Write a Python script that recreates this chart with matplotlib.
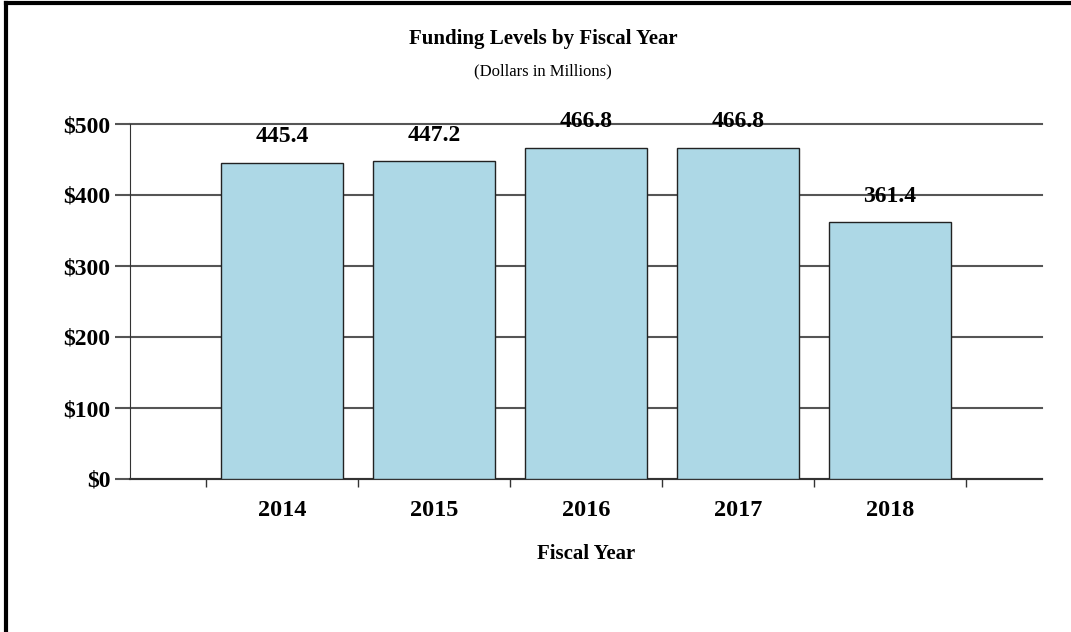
import matplotlib.pyplot as plt
from matplotlib.lines import Line2D

# data
years = ['2014', '2015', '2016', '2017', '2018']
funding = [445.4, 447.2, 466.8, 466.8, 361.4]
y_ticks = [0, 100, 200, 300, 400, 500]
y_labels = ['$0', '$100', '$200', '$300', '$400', '$500']

plt.rcParams['font.family'] = ['Liberation Serif', 'DejaVu Serif']

fig = plt.figure(figsize=(10.71, 6.32), dpi=100)
ax = fig.add_axes([130 / 1071, 1 - 479 / 632, (1042 - 130) / 1071, (479 - 124) / 632])

pos = list(range(len(years)))
ax.bar(pos, funding, width=0.8, color='#ADD8E6', edgecolor='#222222', linewidth=1, zorder=3)

for x, v in zip(pos, funding):
    ax.annotate(f'{v:.1f}', (x, v), xytext=(0, 11), textcoords='offset points',
                ha='center', va='bottom', fontsize=17, fontweight='bold', zorder=4)

ax.set_xlim(-1, 5)
ax.set_ylim(0, 500)
ax.set_yticks(y_ticks)
ax.set_yticklabels(y_labels, fontsize=17, fontweight='bold')
ax.yaxis.grid(True, color='#555555', linewidth=1.5, zorder=0)
for gl in ax.get_ygridlines():
    gl.set_clip_on(False)

# ticks at category boundaries, labels centred under bars
ax.set_xticks([p - 0.5 for p in pos] + [pos[-1] + 0.5])
ax.set_xticklabels([])
ax.set_xticks(pos, minor=True)
ax.set_xticklabels(years, minor=True, fontsize=17.5, fontweight='bold')
ax.tick_params(axis='x', which='minor', length=0, pad=15)
ax.tick_params(axis='x', which='major', length=6, width=1, color='#333333')
ax.tick_params(axis='y', length=11, width=1.5, color='#555555', pad=3)

for s in ['top', 'right']:
    ax.spines[s].set_visible(False)
ax.spines['left'].set_color('#333333')
ax.spines['bottom'].set_color('#333333')
ax.spines['bottom'].set_linewidth(1.5)

ax.set_xlabel('Fiscal Year', fontsize=15, fontweight='bold', labelpad=17)

fig.text(543 / 1071, 1 - 39 / 632, 'Funding Levels by Fiscal Year', ha='center', va='center',
         fontsize=15, fontweight='bold')
fig.text(543 / 1071, 1 - 71 / 632, '(Dollars in Millions)', ha='center', va='center', fontsize=12)

# outer frame (only left and top edges visible in the crop)
fig.add_artist(Line2D([6 / 1071, 6 / 1071], [0, 1 - 3 / 632], color='black', linewidth=3))
fig.add_artist(Line2D([6 / 1071, 1], [1 - 3 / 632, 1 - 3 / 632], color='black', linewidth=3))

fig.savefig('out.png', dpi=100)
